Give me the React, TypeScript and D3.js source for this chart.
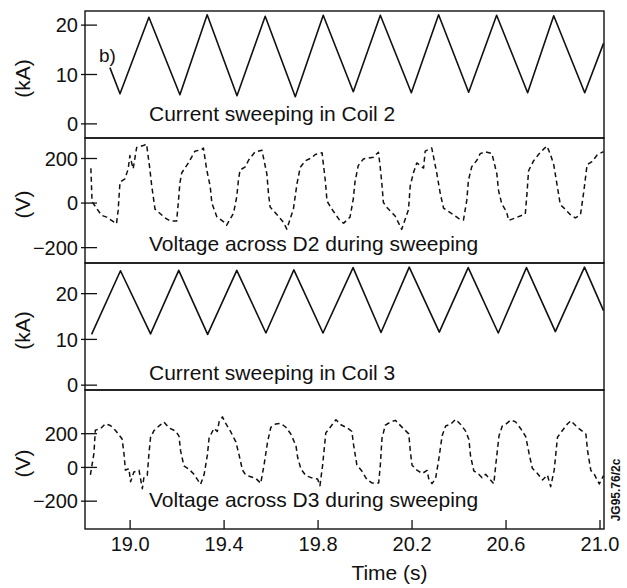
import React, { useEffect, useRef } from "react";
import * as d3 from "d3";

// time axis (s)
const timeTicks = [19.0, 19.4, 19.8, 20.2, 20.6, 21.0];

// Current sweeping in Coil 2 (kA): [time, current]
const currentCoil2: [number, number][] = [
  [18.914, 11.4], [18.957, 6.1], [19.08, 21.6], [19.212, 5.9], [19.328, 22.1],
  [19.455, 5.7], [19.575, 21.8], [19.703, 5.5], [19.822, 22.0], [19.95, 6.5],
  [20.065, 22.0], [20.197, 6.3], [20.313, 22.1], [20.441, 6.4], [20.56, 22.0],
  [20.692, 6.3], [20.803, 21.9], [20.935, 6.3], [21.015, 16.3],
];

// Voltage across D2 during sweeping (V)
const voltageD2: [number, number][] = [
  [18.833, 156], [18.838, 6], [18.878, -55], [18.9, -63], [18.942, -93], [18.949, -33],
  [18.957, 94], [18.978, 109], [18.992, 154], [18.999, 213], [19.013, 154], [19.028, 250],
  [19.056, 258], [19.07, 265], [19.084, 153], [19.092, 77], [19.106, -27], [19.148, -66],
  [19.17, -80], [19.198, -81], [19.205, 1], [19.212, 91], [19.22, 136], [19.248, 180],
  [19.276, 233], [19.305, 240], [19.312, 247], [19.326, 150], [19.341, 74], [19.348, 0],
  [19.369, -61], [19.397, -83], [19.411, -99], [19.44, -46], [19.454, 28], [19.461, 103],
  [19.468, 148], [19.49, 162], [19.504, 192], [19.532, 230], [19.561, 237], [19.582, 131],
  [19.589, 42], [19.596, -18], [19.617, -42], [19.653, -87], [19.667, -117], [19.695, -27],
  [19.71, 85], [19.724, 160], [19.745, 189], [19.774, 204], [19.788, 218], [19.817, 226],
  [19.831, 99], [19.838, 9], [19.86, -29], [19.895, -82], [19.909, -90], [19.936, -63],
  [19.95, 19], [19.957, 94], [19.971, 168], [19.993, 198], [20.035, 206], [20.057, 228],
  [20.064, 167], [20.071, 93], [20.078, 3], [20.092, -19], [20.128, -58], [20.142, -88],
  [20.156, -118], [20.185, -29], [20.192, 76], [20.206, 136], [20.22, 180], [20.249, 157],
  [20.256, 233], [20.284, 247], [20.305, 135], [20.32, 44], [20.334, -23], [20.377, -53],
  [20.398, -69], [20.419, -76], [20.433, 13], [20.44, 102], [20.454, 163], [20.476, 192],
  [20.49, 222], [20.511, 230], [20.54, 222], [20.561, 131], [20.568, 57], [20.582, -4],
  [20.603, -41], [20.611, -78], [20.646, -64], [20.682, -49], [20.689, 40], [20.696, 145],
  [20.717, 189], [20.739, 219], [20.76, 242], [20.774, 256], [20.789, 218], [20.803, 173],
  [20.817, 83], [20.831, -7], [20.853, -29], [20.874, -52], [20.895, -67], [20.917, -52],
  [20.931, 52], [20.945, 172], [20.966, 186], [20.988, 216], [21.015, 231],
];

// Current sweeping in Coil 3 (kA)
const currentCoil3: [number, number][] = [
  [18.836, 11.1], [18.959, 25.0], [19.087, 11.2], [19.207, 25.1], [19.33, 11.1],
  [19.454, 25.1], [19.578, 11.4], [19.697, 25.2], [19.821, 11.4], [19.949, 25.7],
  [20.068, 11.5], [20.188, 25.8], [20.316, 11.6], [20.439, 25.7], [20.567, 11.4],
  [20.687, 25.7], [20.81, 11.7], [20.934, 25.8], [21.015, 16.3],
];

// Voltage across D3 during sweeping (V)
const voltageD3: [number, number][] = [
  [18.831, -44], [18.846, 83], [18.852, 221], [18.874, 230], [18.895, 259], [18.916, 249],
  [18.938, 219], [18.966, 169], [18.974, 81], [18.98, -16], [18.995, -7], [19.002, -85],
  [19.016, -27], [19.038, -17], [19.052, -126], [19.059, -57], [19.073, -47], [19.08, 79],
  [19.087, 178], [19.101, 217], [19.123, 246], [19.144, 269], [19.165, 235], [19.194, 215],
  [19.208, 186], [19.215, 98], [19.229, 9], [19.251, -11], [19.272, -41], [19.286, -71],
  [19.3, -100], [19.315, -42], [19.329, 75], [19.336, 173], [19.357, 232], [19.371, 213],
  [19.379, 271], [19.393, 300], [19.407, 261], [19.428, 212], [19.45, 152], [19.464, 73],
  [19.478, -15], [19.492, -45], [19.535, -65], [19.556, -94], [19.571, 23], [19.585, 151],
  [19.599, 238], [19.62, 258], [19.642, 261], [19.663, 238], [19.684, 198], [19.706, 128],
  [19.713, 60], [19.727, -9], [19.748, -49], [19.777, -64], [19.798, -69], [19.808, -108],
  [19.819, 9], [19.833, 205], [19.855, 244], [19.876, 283], [19.897, 253], [19.926, 233],
  [19.944, 213], [19.951, 135], [19.965, 16], [19.987, -23], [20.008, -72], [20.029, -92],
  [20.058, -92], [20.065, 15], [20.072, 172], [20.086, 250], [20.108, 269], [20.129, 279],
  [20.157, 239], [20.186, 199], [20.193, 91], [20.2, 13], [20.221, -16], [20.243, -36],
  [20.264, -18], [20.271, -66], [20.285, -96], [20.3, -67], [20.314, 51], [20.328, 188],
  [20.343, 246], [20.364, 256], [20.385, 285], [20.407, 255], [20.428, 215], [20.442, 166],
  [20.449, 68], [20.463, -21], [20.484, -41], [20.498, -61], [20.513, -41], [20.548, -97],
  [20.556, 11], [20.57, 187], [20.584, 245], [20.598, 255], [20.62, 281], [20.641, 270],
  [20.662, 231], [20.684, 182], [20.698, 83], [20.712, -5], [20.733, -35], [20.755, -74],
  [20.776, -45], [20.79, -114], [20.805, -16], [20.819, 179], [20.84, 219], [20.861, 257],
  [20.876, 277], [20.904, 237], [20.94, 198], [20.947, 99], [20.961, -18], [20.975, -39],
  [20.997, -98], [21.015, -49],
];

const currentTicks = [0, 10, 20];
const voltageTicks = [-200, 0, 200];

const FONT = "'Liberation Sans', Arial, Helvetica, sans-serif";

const App = () => {
  const ref = useRef<SVGSVGElement | null>(null);

  useEffect(() => {
    const svg = d3.select(ref.current);
    svg.selectAll("*").remove();

    const left = 85;
    const right = 604;

    const x = d3.scaleLinear().domain([18.808, 21.017]).range([left, right]);

    const panels = [
      { top: 11, bottom: 138, domain: [-2.86, 22.86], ticks: currentTicks, unit: "(kA)",
        title: "Current sweeping in Coil 2", titleDy: -17, data: currentCoil2, dashed: false },
      { top: 138, bottom: 263, domain: [-269, 292], ticks: voltageTicks, unit: "(V)",
        title: "Voltage across D2 during sweeping", titleDy: -12, data: voltageD2, dashed: true },
      { top: 263, bottom: 390, domain: [-1.06, 26.7], ticks: currentTicks, unit: "(kA)",
        title: "Current sweeping in Coil 3", titleDy: -10, data: currentCoil3, dashed: false },
      { top: 390, bottom: 529, domain: [-365, 459], ticks: voltageTicks, unit: "(V)",
        title: "Voltage across D3 during sweeping", titleDy: -22, data: voltageD3, dashed: true },
    ];

    const fmt = (v: number) => (v < 0 ? "\u2212" + Math.abs(v) : String(v));

    panels.forEach((p) => {
      const y = d3.scaleLinear().domain(p.domain).range([p.bottom, p.top]);
      const g = svg.append("g");

      // ticks on the left axis
      p.ticks.forEach((t) => {
        g.append("line")
          .attr("x1", left - 4)
          .attr("x2", left + 12)
          .attr("y1", y(t))
          .attr("y2", y(t))
          .attr("stroke", "#111")
          .attr("stroke-width", 1.3);
        g.append("text")
          .attr("x", left - 7)
          .attr("y", y(t))
          .attr("dy", "0.36em")
          .attr("text-anchor", "end")
          .attr("font-size", 20)
          .attr("font-family", FONT)
          .attr("fill", "#111")
          .text(fmt(t));
      });

      const line = d3
        .line<[number, number]>()
        .x((d) => x(d[0]))
        .y((d) => y(d[1]));

      g.append("path")
        .datum(p.data)
        .attr("fill", "none")
        .attr("stroke", "#111")
        .attr("stroke-width", p.dashed ? 1.5 : 1.6)
        .attr("stroke-dasharray", p.dashed ? "5,3.5" : null)
        .attr("stroke-linejoin", "round")
        .attr("d", line);

      g.append("text")
        .attr("x", left + 64)
        .attr("y", p.bottom + p.titleDy)
        .attr("font-size", 21)
        .attr("font-family", FONT)
        .attr("fill", "#111")
        .text(p.title);

      const cy = (p.top + p.bottom) / 2 + 4;
      g.append("text")
        .attr("transform", `translate(30,${cy}) rotate(-90)`)
        .attr("text-anchor", "middle")
        .attr("font-size", 21)
        .attr("font-family", FONT)
        .attr("fill", "#111")
        .text(p.unit);

      // panel frame
      g.append("rect")
        .attr("x", left)
        .attr("y", p.top)
        .attr("width", right - left)
        .attr("height", p.bottom - p.top)
        .attr("fill", "none")
        .attr("stroke", "#111")
        .attr("stroke-width", 1.4);
    });

    // bottom time axis
    const axisY = panels[3].bottom;
    timeTicks.forEach((t) => {
      svg.append("line")
        .attr("x1", x(t))
        .attr("x2", x(t))
        .attr("y1", axisY)
        .attr("y2", axisY - 9)
        .attr("stroke", "#111")
        .attr("stroke-width", 1.3);
      svg.append("text")
        .attr("x", x(t))
        .attr("y", axisY + 22)
        .attr("text-anchor", "middle")
        .attr("font-size", 20)
        .attr("font-family", FONT)
        .attr("fill", "#111")
        .text(t.toFixed(1));
    });

    svg.append("text")
      .attr("x", (left + right) / 2 + 45)
      .attr("y", 580)
      .attr("text-anchor", "middle")
      .attr("font-size", 21)
      .attr("font-family", FONT)
      .attr("fill", "#111")
      .text("Time (s)");

    svg.append("text")
      .attr("x", left + 14)
      .attr("y", 62)
      .attr("font-size", 19)
      .attr("font-family", FONT)
      .attr("fill", "#111")
      .text("b)");

    svg.append("text")
      .attr("transform", `translate(620,490) rotate(-90)`)
      .attr("text-anchor", "middle")
      .attr("font-size", 12)
      .attr("font-weight", "bold")
      .attr("font-family", FONT)
      .attr("fill", "#111")
      .text("JG95.76/2c");
  }, []);

  return (
    <div style={{ position: "absolute", left: 0, top: 0 }}>
      <svg ref={ref} width={627} height={588} style={{ display: "block", background: "#fff" }} />
    </div>
  );
};

export default App;
